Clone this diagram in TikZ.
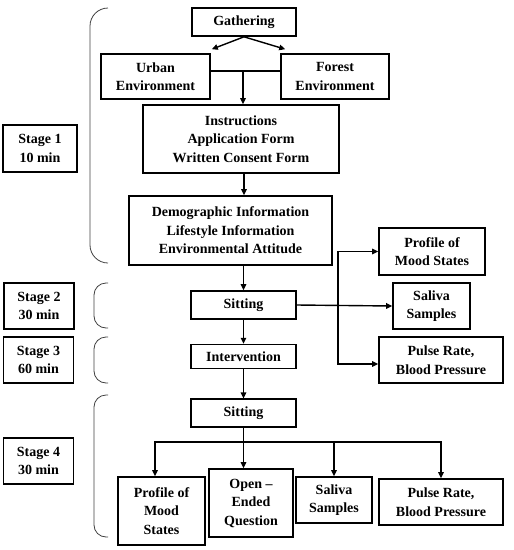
\documentclass[tikz,border=0pt]{standalone}
\usepackage{fontspec}
\setmainfont{Liberation Serif}
\usetikzlibrary{positioning,arrows.meta}

\begin{document}
\begin{tikzpicture}[
  x=1pt, y=-1pt,
  box/.style={rectangle, draw, line width=1.6pt, align=center, inner sep=2pt, font=\fontsize{14}{18.5}\selectfont\bfseries},
  stagebox/.style={box, minimum width=70pt, minimum height=46pt},
  arrow/.style={-{Triangle[length=6pt, width=5.5pt]}, line width=1.4pt},
  link/.style={line width=1.4pt},
  bracket/.style={draw=black!75, line width=0.8pt, rounded corners=12pt},
]
\useasboundingbox (0,0) rectangle (514,550);

% === Stage 1: gathering, forms, questionnaire ===
\node[box, minimum width=104pt, minimum height=28pt] (gather) at (244,22) {Gathering};
\node[box, minimum width=109pt, minimum height=45pt] (urban) at (155.5,76.5) {Urban\\ Environment};
\node[box, minimum width=108pt, minimum height=45pt] (forest) at (335,76.5) {Forest\\ Environment};
\node[box, minimum width=196pt, minimum height=68pt] (instr) at (241,139) {Instructions\\ Application Form\\ Written Consent Form};
\node[box, minimum width=203pt, minimum height=69pt] (demo) at (230.5,230.5) {Demographic Information\\ Lifestyle Information\\ Environmental Attitude};

% === Stages 2 and 3 ===
\node[box, minimum width=105pt, minimum height=28pt] (sit1) at (243.5,305) {Sitting};
\node[box, minimum width=105pt, minimum height=24pt, below=24pt of sit1] (interv) {Intervention};
\node[box, minimum width=106pt, minimum height=47pt] (pom1) at (432,251.5) {Profile of\\ Mood States};
\node[box, minimum width=77pt, minimum height=46pt] (sal1) at (431.5,306) {Saliva\\ Samples};
\node[box, minimum width=124pt, minimum height=46pt] (pulse1) at (441,360) {Pulse Rate,\\ Blood Pressure};

% === Stage 4 ===
\node[box, minimum width=105pt, minimum height=28pt, below=29pt of interv] (sit2) {Sitting};
\node[box, minimum width=87pt, minimum height=68pt] (pom2) at (161.5,511) {Profile of\\ Mood\\ States};
\node[box, minimum width=84pt, minimum height=68pt] (open) at (251,503) {Open –\\ Ended\\ Question};
\node[box, minimum width=76pt, minimum height=46pt] (sal2) at (334,500) {Saliva\\ Samples};
\node[box, minimum width=124pt, minimum height=46pt] (pulse2) at (441,502) {Pulse Rate,\\ Blood Pressure};

% === Stage labels and brackets ===
\node[stagebox, minimum width=74pt, minimum height=47pt] (st1) at (40,148.5) {Stage 1\\ 10 min};
\node[stagebox] (st2) at (39,306) {Stage 2\\ 30 min};
\node[stagebox] (st3) at (38.5,360) {Stage 3\\ 60 min};
\node[stagebox] (st4) at (38.5,461) {Stage 4\\ 30 min};

\draw[bracket, rounded corners=18pt] (108,8) -- (90,8) -- (90,263) -- (108,263);
\draw[bracket] (108,283) -- (94,283) -- (94,328) -- (108,328);
\draw[bracket] (108,337) -- (94,337) -- (94,383) -- (108,383);
\draw[bracket] (108,395) -- (94,395) -- (94,537) -- (108,537);

% === Connectors ===
\coordinate (envjoin) at (243,71);
\coordinate (spine) at (244,0);
\coordinate (branch) at (338,306);
\coordinate (bus) at (243.5,442);

\draw[arrow] (gather.south) -- ([xshift=1pt, yshift=4pt]urban.north east);
\draw[arrow] (gather.south) -- ([xshift=5pt, yshift=4pt]forest.north west);
\draw[link] (urban.east |- envjoin) -- (forest.west |- envjoin);
\draw[arrow] (envjoin) -- (envjoin |- instr.north);
\draw[arrow] (spine |- instr.south) -- (spine |- demo.north);
\draw[arrow] (demo.south -| sit1.north) -- (sit1.north);
\draw[arrow] (sit1.south) -- (interv.north);
\draw[arrow] (interv.south) -- (sit2.north);

\draw[arrow] (sit1.east) -- (sal1.west);
\draw[arrow] (branch) |- (pom1.west);
\draw[arrow] (branch) |- ([yshift=-4pt]pulse1.west);

\draw[link] (sit2.south) -- (bus);
\draw[arrow] (bus) -| ([xshift=-6.5pt]pom2.north);
\draw[arrow] (sit2.south) -- (sit2.south |- open.north);
\draw[arrow] (bus) -| (sal2.north);
\draw[arrow] (bus) -| (pulse2.north);

\end{tikzpicture}
\end{document}
